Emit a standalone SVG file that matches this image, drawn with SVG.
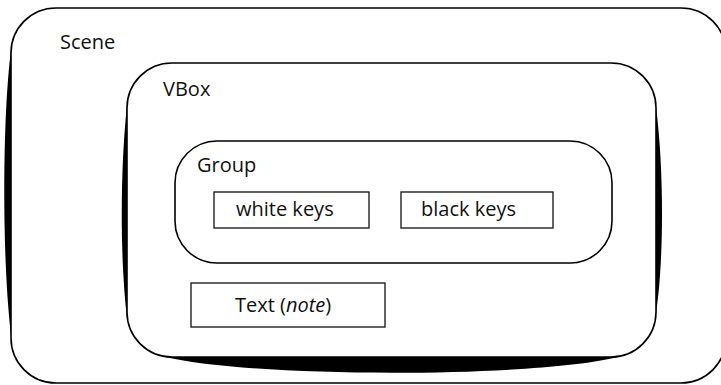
<svg xmlns="http://www.w3.org/2000/svg" width="721" height="385" viewBox="0 0 721 385">
<style>
  .frame { fill: none; stroke: #000; stroke-width: 1.6; }
  .bulge { fill: #000; stroke: none; }
  .box { fill: #fff; stroke: #222; stroke-width: 1.4; }
  .lbl { font-family: "Open Sans", "Liberation Sans", sans-serif; font-size: 20px; fill: #111; }
</style>
<rect width="721" height="385" fill="#fff"/>
<g id="scene">
  <rect class="frame" x="11" y="8" width="715" height="375" rx="45" ry="45"/>
  <path class="bulge" d="M11,50 C2,120 2,260 11,335 Z"/>
  <path class="bulge" d="M726,55 C735,120 735,260 726,338 Z"/>
  <text class="lbl" x="60" y="49">Scene</text>
</g>
<g id="vbox">
  <rect class="frame" x="127" y="63" width="529" height="294" rx="45" ry="45"/>
  <path class="bulge" d="M127,105 C120,170 120,260 127,318 Z"/>
  <path class="bulge" d="M656,107 C664,170 664,260 656,313 Z"/>
  <path class="bulge" d="M165,357 C260,379 540,377 618,357 Z"/>
  <text class="lbl" x="163" y="96">VBox</text>
</g>
<g id="group">
  <rect class="frame" x="175" y="141" width="437" height="122" rx="42" ry="42"/>
  <text class="lbl" x="197" y="172">Group</text>
</g>
<g id="white-keys">
  <rect class="box" x="214" y="192" width="155" height="36"/>
  <text class="lbl" x="236" y="216">white keys</text>
</g>
<g id="black-keys">
  <rect class="box" x="401" y="192" width="152" height="36"/>
  <text class="lbl" x="421" y="216">black keys</text>
</g>
<g id="text-note">
  <rect class="box" x="191" y="283" width="194" height="44"/>
  <text class="lbl" x="235" y="312">Text (<tspan font-style="italic">note</tspan>)</text>
</g>
</svg>
